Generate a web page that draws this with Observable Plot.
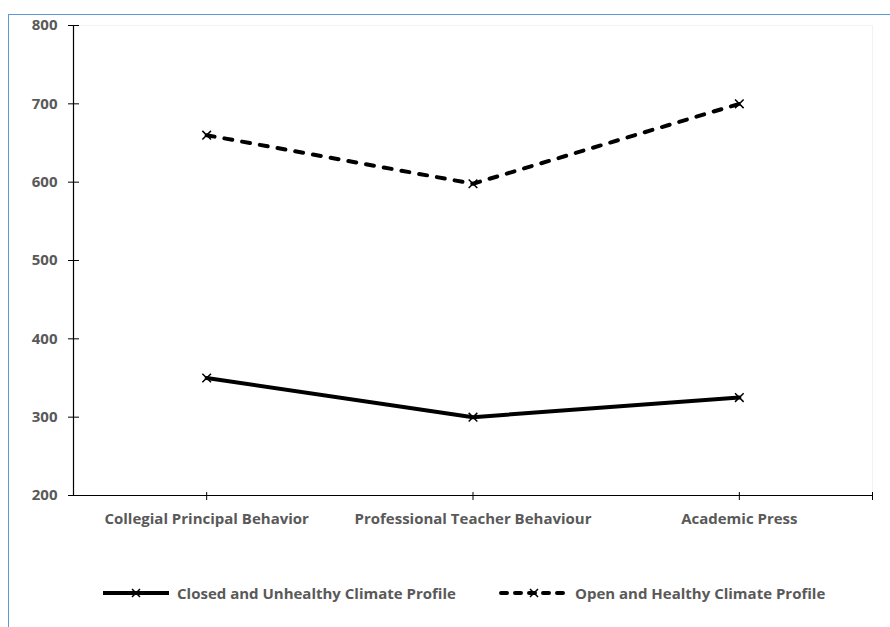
<!DOCTYPE html>
<html>
<head>
<meta charset="utf-8">
<script src="https://cdn.jsdelivr.net/npm/d3@7"></script>
<script src="https://cdn.jsdelivr.net/npm/@observablehq/plot@0.6"></script>
<style>
  html, body { margin: 0; padding: 0; background: #fff; }
  #wrap { position: relative; width: 890px; height: 627px; overflow: hidden; font-family: "Open Sans", Lato, sans-serif; }
  #frame { position: absolute; left: 8px; top: 14px; width: 900px; height: 700px; border-left: 1.5px solid #5b9bd5; border-top: 1.5px solid #5b9bd5; pointer-events: none; }
  #chart { position: absolute; left: 0; top: 0; }
  .leg { position: absolute; top: 583px; height: 20px; display: flex; align-items: center; font-weight: 700; font-size: 15px; color: #595959; }
  .leg svg { margin-right: 5px; }
</style>
</head>
<body>
<div id="wrap">
  <div id="chart"></div>
  <div id="frame"></div>
  <div class="leg" id="leg1" style="left:100px"></div>
  <div class="leg" id="leg2" style="left:498px"></div>
</div>
<script>
const categories = ["Collegial Principal Behavior", "Professional Teacher Behaviour", "Academic Press"];
const closedValues = [350, 300, 325];
const openValues = [660, 598, 700];
const seriesNames = ["Closed and Unhealthy Climate Profile", "Open and Healthy Climate Profile"];
const yTicks = [200, 300, 400, 500, 600, 700, 800];

const rows = [];
categories.forEach((c, i) => {
  rows.push({series: seriesNames[0], pos: i + 0.5, value: closedValues[i]});
  rows.push({series: seriesNames[1], pos: i + 0.5, value: openValues[i]});
});
const closed = rows.filter(d => d.series === seriesNames[0]);
const open = rows.filter(d => d.series === seriesNames[1]);

const textColor = "#595959";
const plot = Plot.plot({
  width: 890,
  height: 545,
  marginLeft: 73,
  marginRight: 18,
  marginTop: 25,
  marginBottom: 50,
  style: {fontFamily: "'Open Sans', Lato, sans-serif", fontSize: "15px", fontWeight: 700, color: textColor, background: "transparent"},
  x: {type: "linear", domain: [0, categories.length]},
  y: {domain: [200, 800]},
  marks: [
    Plot.ruleY([800], {stroke: "#f2f2f2", strokeWidth: 1}),
    Plot.ruleX([categories.length], {stroke: "#f2f2f2", strokeWidth: 1}),
    Plot.axisY({ticks: yTicks, tickSize: 5, tickPadding: 11, label: null, fill: textColor, stroke: "#000", fontSize: 15, fontWeight: 700}),
    Plot.axisY({ticks: yTicks.slice(1), tickSize: 6, anchor: "left", tickFormat: () => "", stroke: "#000", dx: 6, label: null}),
    Plot.axisX({ticks: [0.5, 1.5, 2.5, 3], tickSize: 5, tickPadding: 13, label: null, fill: textColor, stroke: "#000",
      tickFormat: t => categories[Math.floor(t)] ?? "", fontSize: 15, fontWeight: 700}),
    Plot.axisX({ticks: [0.5, 1.5, 2.5, 3], tickSize: 3, anchor: "bottom", tickFormat: () => "", stroke: "#000", dy: -3, label: null}),
    Plot.ruleX([0], {stroke: "#000", strokeWidth: 1.2}),
    Plot.ruleY([200], {stroke: "#000", strokeWidth: 1.2}),
    Plot.line(closed, {x: "pos", y: "value", stroke: "#000", strokeWidth: 4}),
    Plot.line(open, {x: "pos", y: "value", stroke: "#000", strokeWidth: 4, strokeDasharray: "8,10", strokeLinecap: "round"}),
    Plot.dot(rows, {x: "pos", y: "value", symbol: "times", r: 4, stroke: "#000", strokeWidth: 1.5, fill: "none"})
  ]
});
document.getElementById("chart").appendChild(plot);

function legendSwatch(dashed) {
  const svg = d3.create("svg").attr("width", 72).attr("height", 20);
  svg.append("line").attr("x1", 3).attr("x2", 69).attr("y1", 10).attr("y2", 10)
    .attr("stroke", "#000").attr("stroke-width", 4)
    .attr("stroke-linecap", dashed ? "round" : "butt")
    .attr("stroke-dasharray", dashed ? "6,8" : null);
  svg.append("path").attr("d", "M32,6L40,14M40,6L32,14").attr("stroke", "#000").attr("stroke-width", 1.5);
  return svg.node();
}
const l1 = document.getElementById("leg1");
l1.appendChild(legendSwatch(false));
l1.appendChild(document.createTextNode(seriesNames[0]));
const l2 = document.getElementById("leg2");
l2.appendChild(legendSwatch(true));
l2.appendChild(document.createTextNode(seriesNames[1]));
</script>
</body>
</html>
